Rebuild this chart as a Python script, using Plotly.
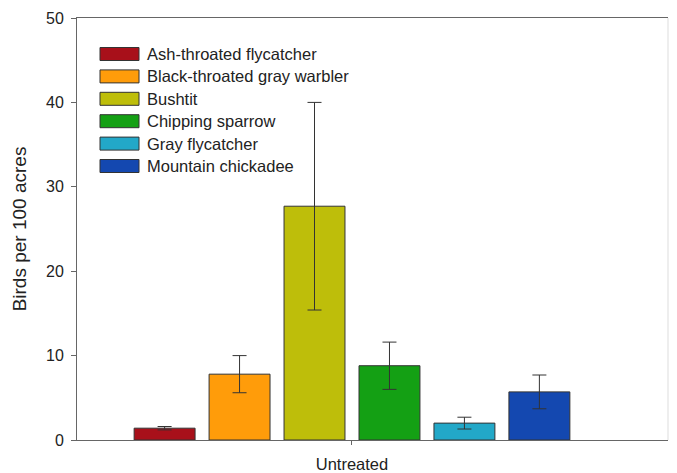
import plotly.graph_objects as go

categories = ["Untreated"]
species = ["Ash-throated flycatcher", "Black-throated gray warbler", "Bushtit",
           "Chipping sparrow", "Gray flycatcher", "Mountain chickadee"]
means = [1.4, 7.8, 27.7, 8.8, 2.0, 5.7]
errors = [0.2, 2.2, 12.3, 2.8, 0.7, 2.0]
colors = ["#A8101A", "#FF9C0A", "#BEBE0A", "#14A014", "#22A8C8", "#1448B0"]
y_ticks = [0, 10, 20, 30, 40, 50]

fig = go.Figure()
for name, m, e, c in zip(species, means, errors, colors):
    fig.add_trace(go.Bar(
        x=categories, y=[m], name=name, showlegend=False,
        marker=dict(color=c, line=dict(color="#333333", width=1)),
        error_y=dict(type="data", array=[e], color="#333333", thickness=1, width=7),
    ))

# custom legend with wide swatches; plot area spans 77..668 x 18..440 px
PL, PT, PW, PH = 77.0, 18.0, 591.0, 422.0
for i, (name, c) in enumerate(zip(species, colors)):
    py = 54 + 22.4 * i
    yd = (PT + PH - py) / PH
    fig.add_shape(type="rect", xref="x domain", yref="y domain",
                  x0=(100 - PL) / PW, x1=(139 - PL) / PW,
                  y0=yd - 6.5 / PH, y1=yd + 6.5 / PH,
                  fillcolor=c, line=dict(color="#333333", width=1))
    fig.add_annotation(xref="x domain", yref="y domain", x=(145 - PL) / PW, y=yd,
                       text=name, showarrow=False, xanchor="left", yanchor="middle",
                       font=dict(size=16.5, color="#222222"))

fig.add_shape(type="line", xref="x domain", yref="y domain", x0=1, x1=1, y0=0, y1=1,
              line=dict(color="#DDDDDD", width=1))

fig.update_layout(
    width=677, height=473,
    paper_bgcolor="white", plot_bgcolor="white",
    margin=dict(l=77, r=9, t=18, b=33),
    barmode="group", bargap=0.239, bargroupgap=0.187,
    font=dict(family="Liberation Sans, Arial, sans-serif", size=16, color="#222222"),
    showlegend=False,
    xaxis=dict(range=[-0.4653, 0.5347], showline=True, linecolor="#666666", linewidth=1,
               mirror=True, ticks="outside", ticklen=4, tickcolor="#666666",
               ticklabelstandoff=5, tickfont=dict(size=16.5), automargin=False,
               showgrid=False, zeroline=False),
    yaxis=dict(range=[0, 50], tickvals=y_ticks, showline=True, linecolor="#666666",
               linewidth=1, mirror=False, ticks="outside", ticklen=5, tickcolor="#666666",
               ticklabelstandoff=4, tickfont=dict(size=16), automargin=False,
               showgrid=False, zeroline=False,
               title=dict(text="Birds per 100 acres", font=dict(size=19), standoff=14)),
)

fig.write_html("out.html", config={"displayModeBar": False},
               post_script="document.body.style.margin='0px';document.body.style.overflow='hidden';")
